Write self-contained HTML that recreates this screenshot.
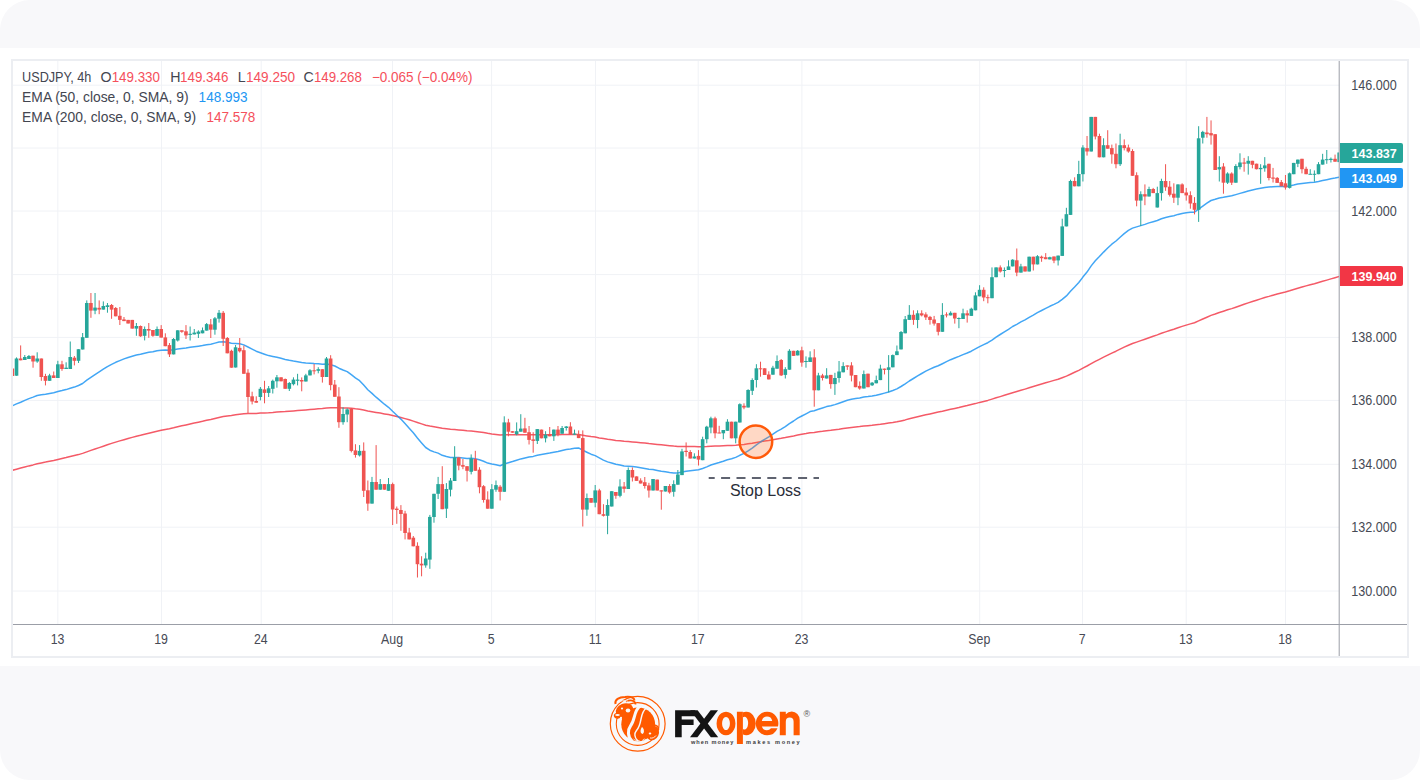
<!DOCTYPE html>
<html><head><meta charset="utf-8"><style>
html,body{margin:0;padding:0;background:#fff;}
body{width:1420px;height:780px;position:relative;overflow:hidden;font-family:"Liberation Sans",sans-serif;}
#bg{position:absolute;left:0;top:0;width:1420px;height:780px;background:#f8f8fa;border-radius:30px;}
#card{position:absolute;left:0;top:48px;width:1420px;height:618px;background:#fff;}
svg{position:absolute;left:0;top:0;}
</style></head><body>
<div id="bg"></div>
<div id="card"></div>
<svg width="1420" height="780" viewBox="0 0 1420 780" font-family="Liberation Sans, sans-serif">
<rect x="12" y="60" width="1396" height="597" fill="#fff" stroke="#eceef2" stroke-width="2"/>
<g stroke="#f0f2f6" stroke-width="1">
<line x1="13" y1="85.2" x2="1339" y2="85.2"/>
<line x1="13" y1="148.0" x2="1339" y2="148.0"/>
<line x1="13" y1="211.0" x2="1339" y2="211.0"/>
<line x1="13" y1="274.6" x2="1339" y2="274.6"/>
<line x1="13" y1="337.4" x2="1339" y2="337.4"/>
<line x1="13" y1="400.4" x2="1339" y2="400.4"/>
<line x1="13" y1="464.3" x2="1339" y2="464.3"/>
<line x1="13" y1="527.2" x2="1339" y2="527.2"/>
<line x1="13" y1="591.0" x2="1339" y2="591.0"/>
<line x1="57.85" y1="61" x2="57.85" y2="624"/>
<line x1="161.5" y1="61" x2="161.5" y2="624"/>
<line x1="261.2" y1="61" x2="261.2" y2="624"/>
<line x1="392.5" y1="61" x2="392.5" y2="624"/>
<line x1="491.6" y1="61" x2="491.6" y2="624"/>
<line x1="595.5" y1="61" x2="595.5" y2="624"/>
<line x1="698.2" y1="61" x2="698.2" y2="624"/>
<line x1="801.9" y1="61" x2="801.9" y2="624"/>
<line x1="979.7" y1="61" x2="979.7" y2="624"/>
<line x1="1082.5" y1="61" x2="1082.5" y2="624"/>
<line x1="1186.2" y1="61" x2="1186.2" y2="624"/>
<line x1="1285.45" y1="61" x2="1285.45" y2="624"/>
</g>
<defs><clipPath id="plot"><rect x="13" y="61" width="1326" height="563"/></clipPath></defs>
<g clip-path="url(#plot)">
<path d="M12.4,470.3 L16.5,469.2 L20.7,468.1 L24.8,467.0 L28.9,465.9 L33.1,464.9 L37.2,463.8 L41.3,462.9 L45.5,462.1 L49.6,461.2 L53.7,460.4 L57.9,459.4 L62.0,458.5 L66.1,457.6 L70.2,456.6 L74.4,455.6 L78.5,454.6 L82.6,453.4 L86.8,451.9 L90.9,450.4 L95.0,449.0 L99.2,447.6 L103.3,446.2 L107.4,444.8 L111.6,443.4 L115.7,442.1 L119.8,440.9 L124.0,439.7 L128.1,438.5 L132.2,437.4 L136.4,436.3 L140.5,435.3 L144.6,434.2 L148.8,433.2 L152.9,432.2 L157.0,431.2 L161.2,430.3 L165.3,429.4 L169.4,428.7 L173.6,427.8 L177.7,426.8 L181.8,425.8 L186.0,424.9 L190.1,424.0 L194.2,423.1 L198.4,422.2 L202.5,421.3 L206.6,420.3 L210.8,419.4 L214.9,418.4 L219.0,417.4 L223.2,416.6 L227.3,415.9 L231.4,415.5 L235.6,414.8 L239.7,414.2 L243.8,413.8 L248.0,413.6 L252.1,413.5 L256.2,413.4 L260.4,413.1 L264.5,412.9 L268.6,412.7 L272.8,412.4 L276.9,412.0 L281.0,411.7 L285.2,411.5 L289.3,411.2 L293.4,410.9 L297.6,410.6 L301.7,410.3 L305.8,410.0 L310.0,409.6 L314.1,409.2 L318.2,408.8 L322.4,408.5 L326.5,408.0 L330.6,407.8 L334.8,407.7 L338.9,407.8 L343.0,407.9 L347.2,407.9 L351.3,408.3 L355.4,408.8 L359.6,409.2 L363.7,410.0 L367.8,410.9 L372.0,411.7 L376.1,412.4 L380.2,413.1 L384.4,413.9 L388.5,414.6 L392.6,415.5 L396.8,416.5 L400.9,417.5 L405.0,418.6 L409.2,419.8 L413.3,421.1 L417.4,422.5 L421.6,423.9 L425.7,425.2 L429.8,426.1 L434.0,426.8 L438.1,427.4 L442.2,428.2 L446.4,428.8 L450.5,429.3 L454.6,429.6 L458.8,429.9 L462.9,430.3 L467.0,430.7 L471.2,431.0 L475.3,431.4 L479.4,431.9 L483.6,432.6 L487.7,433.3 L491.8,433.9 L496.0,434.4 L500.1,435.0 L504.2,434.8 L508.4,434.8 L512.5,434.8 L516.6,434.7 L520.8,434.7 L524.9,434.7 L529.0,434.7 L533.2,434.8 L537.3,434.7 L541.4,434.7 L545.6,434.7 L549.7,434.7 L553.8,434.7 L558.0,434.7 L562.1,434.6 L566.2,434.5 L570.4,434.5 L574.5,434.5 L578.6,434.6 L582.8,435.3 L586.9,435.9 L591.0,436.6 L595.2,437.1 L599.3,437.9 L603.4,438.6 L607.6,439.3 L611.7,439.8 L615.8,440.4 L620.0,440.8 L624.1,441.3 L628.2,441.6 L632.4,441.9 L636.5,442.3 L640.6,442.7 L644.8,443.1 L648.9,443.6 L653.0,443.9 L657.2,444.4 L661.3,444.8 L665.4,445.2 L669.6,445.7 L673.7,446.1 L677.8,446.4 L682.0,446.4 L686.1,446.4 L690.2,446.6 L694.4,446.6 L698.5,446.8 L702.6,446.7 L706.8,446.5 L710.9,446.2 L715.0,446.0 L719.2,445.9 L723.3,445.7 L727.4,445.5 L731.6,445.4 L735.7,445.2 L739.8,444.8 L744.0,444.4 L748.1,443.8 L752.2,443.2 L756.4,442.4 L760.5,441.7 L764.6,441.0 L768.8,440.4 L772.9,439.7 L777.0,438.9 L781.2,438.3 L785.3,437.6 L789.4,436.7 L793.6,435.9 L797.7,435.0 L801.8,434.3 L806.0,433.6 L810.1,432.8 L814.2,432.4 L818.4,431.8 L822.5,431.3 L826.6,430.7 L830.8,430.3 L834.9,429.7 L839.0,429.2 L843.2,428.5 L847.3,427.9 L851.4,427.4 L855.6,427.0 L859.7,426.6 L863.8,426.1 L868.0,425.7 L872.1,425.3 L876.2,424.8 L880.4,424.3 L884.5,423.7 L888.6,423.1 L892.8,422.5 L896.9,421.8 L901.0,420.9 L905.2,419.9 L909.3,418.8 L913.4,417.8 L917.6,416.8 L921.7,415.8 L925.8,414.8 L930.0,413.9 L934.1,413.0 L938.2,412.1 L942.4,411.2 L946.5,410.2 L950.6,409.3 L954.8,408.4 L958.9,407.5 L963.0,406.5 L967.2,405.6 L971.3,404.6 L975.4,403.6 L979.6,402.4 L983.7,401.4 L987.8,400.4 L992.0,399.1 L996.1,397.8 L1000.2,396.6 L1004.4,395.3 L1008.5,394.0 L1012.6,392.7 L1016.8,391.5 L1020.9,390.3 L1025.0,389.1 L1029.2,387.8 L1033.3,386.5 L1037.4,385.3 L1041.6,384.0 L1045.7,382.8 L1049.8,381.6 L1054.0,380.4 L1058.1,379.2 L1062.2,377.7 L1066.4,376.1 L1070.5,374.2 L1074.6,372.3 L1078.8,370.4 L1082.9,368.2 L1087.0,366.0 L1091.2,363.6 L1095.3,361.3 L1099.4,359.3 L1103.6,357.2 L1107.7,355.1 L1111.8,353.1 L1116.0,351.2 L1120.1,349.2 L1124.2,347.2 L1128.4,345.2 L1132.5,343.5 L1136.6,342.1 L1140.8,340.6 L1144.9,339.2 L1149.0,337.7 L1153.2,336.3 L1157.3,334.9 L1161.4,333.3 L1165.6,331.9 L1169.7,330.5 L1173.8,329.2 L1178.0,327.7 L1182.1,326.4 L1186.2,325.1 L1190.4,323.9 L1194.5,322.8 L1198.6,320.9 L1202.8,319.0 L1206.9,317.2 L1211.0,315.4 L1215.2,314.0 L1219.3,312.5 L1223.4,311.2 L1227.6,309.8 L1231.7,308.6 L1235.8,307.2 L1240.0,305.7 L1244.1,304.3 L1248.2,302.9 L1252.4,301.5 L1256.5,300.2 L1260.6,298.9 L1264.8,297.5 L1268.9,296.4 L1273.0,295.2 L1277.2,294.1 L1281.3,293.0 L1285.4,292.0 L1289.6,290.8 L1293.7,289.5 L1297.8,288.2 L1302.0,287.0 L1306.1,285.9 L1310.2,284.8 L1314.4,283.7 L1318.5,282.5 L1322.6,281.3 L1326.8,280.1 L1330.9,278.9 L1335.0,277.7 L1339.2,276.4" fill="none" stroke="#f23645" stroke-opacity="0.82" stroke-width="1.5" stroke-linejoin="round"/>
<path d="M12.4,405.8 L16.5,403.9 L20.7,402.2 L24.8,400.4 L28.9,398.6 L33.1,397.1 L37.2,395.5 L41.3,394.8 L45.5,394.2 L49.6,393.4 L53.7,392.7 L57.9,391.5 L62.0,390.6 L66.1,389.6 L70.2,388.2 L74.4,387.1 L78.5,385.5 L82.6,383.5 L86.8,380.2 L90.9,377.4 L95.0,374.6 L99.2,371.9 L103.3,369.2 L107.4,366.6 L111.6,364.3 L115.7,362.3 L119.8,360.6 L124.0,358.9 L128.1,357.5 L132.2,356.3 L136.4,355.0 L140.5,354.3 L144.6,353.2 L148.8,352.3 L152.9,351.7 L157.0,350.8 L161.2,350.2 L165.3,350.1 L169.4,350.2 L173.6,349.8 L177.7,349.1 L181.8,348.4 L186.0,347.9 L190.1,347.3 L194.2,346.8 L198.4,346.2 L202.5,345.6 L206.6,344.7 L210.8,344.2 L214.9,343.1 L219.0,342.0 L223.2,341.8 L227.3,342.3 L231.4,343.3 L235.6,343.4 L239.7,343.8 L243.8,344.9 L248.0,347.0 L252.1,349.1 L256.2,351.2 L260.4,352.7 L264.5,354.2 L268.6,355.6 L272.8,356.5 L276.9,357.3 L281.0,358.3 L285.2,359.4 L289.3,360.3 L293.4,361.1 L297.6,361.8 L301.7,362.5 L305.8,363.0 L310.0,363.2 L314.1,363.5 L318.2,363.7 L322.4,364.2 L326.5,364.0 L330.6,364.8 L334.8,366.0 L338.9,368.2 L343.0,370.0 L347.2,371.6 L351.3,374.7 L355.4,377.9 L359.6,380.7 L363.7,385.1 L367.8,389.7 L372.0,393.4 L376.1,397.2 L380.2,400.6 L384.4,404.2 L388.5,407.3 L392.6,411.3 L396.8,415.2 L400.9,419.1 L405.0,423.6 L409.2,428.2 L413.3,432.8 L417.4,438.0 L421.6,442.9 L425.7,447.5 L429.8,450.2 L434.0,451.9 L438.1,453.1 L442.2,455.3 L446.4,456.5 L450.5,457.4 L454.6,457.4 L458.8,457.6 L462.9,457.9 L467.0,458.4 L471.2,458.3 L475.3,458.7 L479.4,459.8 L483.6,461.3 L487.7,463.1 L491.8,464.0 L496.0,464.8 L500.1,465.8 L504.2,464.0 L508.4,462.7 L512.5,461.5 L516.6,460.2 L520.8,458.9 L524.9,457.9 L529.0,457.1 L533.2,456.4 L537.3,455.3 L541.4,454.6 L545.6,453.8 L549.7,453.1 L553.8,452.2 L558.0,451.5 L562.1,450.5 L566.2,449.6 L570.4,449.0 L574.5,448.3 L578.6,447.9 L582.8,450.3 L586.9,452.2 L591.0,454.2 L595.2,455.6 L599.3,457.8 L603.4,460.1 L607.6,461.9 L611.7,463.0 L615.8,464.3 L620.0,465.1 L624.1,466.0 L628.2,466.2 L632.4,466.6 L636.5,467.1 L640.6,467.7 L644.8,468.4 L648.9,469.3 L653.0,469.6 L657.2,470.4 L661.3,471.2 L665.4,471.8 L669.6,472.5 L673.7,473.0 L677.8,473.0 L682.0,472.1 L686.1,471.3 L690.2,470.8 L694.4,470.2 L698.5,469.8 L702.6,468.5 L706.8,466.9 L710.9,465.0 L715.0,463.7 L719.2,462.5 L723.3,461.2 L727.4,459.7 L731.6,458.8 L735.7,457.4 L739.8,455.3 L744.0,453.4 L748.1,450.9 L752.2,448.1 L756.4,444.9 L760.5,442.0 L764.6,439.3 L768.8,436.9 L772.9,434.2 L777.0,431.3 L781.2,429.1 L785.3,426.7 L789.4,423.7 L793.6,421.0 L797.7,418.2 L801.8,416.0 L806.0,413.8 L810.1,411.6 L814.2,410.7 L818.4,409.3 L822.5,408.0 L826.6,406.6 L830.8,405.7 L834.9,404.6 L839.0,403.2 L843.2,401.7 L847.3,400.2 L851.4,399.2 L855.6,398.6 L859.7,398.1 L863.8,397.1 L868.0,396.6 L872.1,396.0 L876.2,395.3 L880.4,394.2 L884.5,393.1 L888.6,392.0 L892.8,390.5 L896.9,388.9 L901.0,386.5 L905.2,383.8 L909.3,381.0 L913.4,378.5 L917.6,375.9 L921.7,373.5 L925.8,371.2 L930.0,369.1 L934.1,367.2 L938.2,365.7 L942.4,363.7 L946.5,361.7 L950.6,359.7 L954.8,358.0 L958.9,356.4 L963.0,354.6 L967.2,353.0 L971.3,351.2 L975.4,348.9 L979.6,346.6 L983.7,344.6 L987.8,342.7 L992.0,340.1 L996.1,337.1 L1000.2,334.5 L1004.4,331.9 L1008.5,329.3 L1012.6,326.5 L1016.8,324.3 L1020.9,321.9 L1025.0,319.8 L1029.2,317.3 L1033.3,315.1 L1037.4,312.7 L1041.6,310.5 L1045.7,308.4 L1049.8,306.3 L1054.0,304.4 L1058.1,302.4 L1062.2,299.3 L1066.4,295.9 L1070.5,291.3 L1074.6,287.1 L1078.8,282.5 L1082.9,277.1 L1087.0,272.1 L1091.2,265.9 L1095.3,260.8 L1099.4,256.6 L1103.6,252.1 L1107.7,248.0 L1111.8,244.2 L1116.0,241.0 L1120.1,237.2 L1124.2,233.6 L1128.4,230.3 L1132.5,228.1 L1136.6,226.9 L1140.8,225.6 L1144.9,224.4 L1149.0,222.9 L1153.2,221.7 L1157.3,220.5 L1161.4,218.8 L1165.6,217.5 L1169.7,216.6 L1173.8,215.7 L1178.0,214.4 L1182.1,213.5 L1186.2,212.8 L1190.4,212.3 L1194.5,212.2 L1198.6,209.2 L1202.8,206.1 L1206.9,203.2 L1211.0,200.5 L1215.2,199.3 L1219.3,198.0 L1223.4,197.3 L1227.6,196.4 L1231.7,195.8 L1235.8,194.6 L1240.0,193.4 L1244.1,192.2 L1248.2,191.0 L1252.4,189.9 L1256.5,189.1 L1260.6,188.3 L1264.8,187.4 L1268.9,187.0 L1273.0,186.7 L1277.2,186.5 L1281.3,186.5 L1285.4,186.5 L1289.6,185.9 L1293.7,185.0 L1297.8,184.0 L1302.0,183.4 L1306.1,183.0 L1310.2,182.6 L1314.4,182.2 L1318.5,181.5 L1322.6,180.6 L1326.8,179.7 L1330.9,178.8 L1335.0,178.1 L1339.2,177.1" fill="none" stroke="#2196f3" stroke-opacity="0.85" stroke-width="1.5" stroke-linejoin="round"/>
<rect x="11.88" y="364.0" width="1" height="14.0" fill="#ef5350"/>
<rect x="10.58" y="368.5" width="3.6" height="7.5" fill="#ef5350"/>
<rect x="16.02" y="357.4" width="1" height="18.3" fill="#26a69a"/>
<rect x="14.72" y="358.5" width="3.6" height="17.2" fill="#26a69a"/>
<rect x="20.15" y="345.4" width="1" height="14.9" fill="#ef5350"/>
<rect x="18.85" y="358.5" width="3.6" height="1.8" fill="#ef5350"/>
<rect x="24.28" y="355.0" width="1" height="5.0" fill="#26a69a"/>
<rect x="22.98" y="357.0" width="3.6" height="3.0" fill="#26a69a"/>
<rect x="28.42" y="355.0" width="1" height="4.0" fill="#26a69a"/>
<rect x="27.12" y="356.0" width="3.6" height="3.0" fill="#26a69a"/>
<rect x="32.55" y="355.7" width="1" height="12.0" fill="#ef5350"/>
<rect x="31.25" y="355.7" width="3.6" height="5.8" fill="#ef5350"/>
<rect x="36.68" y="352.3" width="1" height="10.5" fill="#26a69a"/>
<rect x="35.38" y="358.5" width="3.6" height="3.0" fill="#26a69a"/>
<rect x="40.82" y="358.5" width="1" height="22.3" fill="#ef5350"/>
<rect x="39.52" y="358.5" width="3.6" height="18.5" fill="#ef5350"/>
<rect x="44.95" y="373.8" width="1" height="11.6" fill="#ef5350"/>
<rect x="43.65" y="376.0" width="3.6" height="4.8" fill="#ef5350"/>
<rect x="49.08" y="373.8" width="1" height="7.0" fill="#26a69a"/>
<rect x="47.78" y="375.4" width="3.6" height="5.4" fill="#26a69a"/>
<rect x="53.22" y="371.5" width="1" height="6.5" fill="#ef5350"/>
<rect x="51.92" y="375.4" width="3.6" height="2.6" fill="#ef5350"/>
<rect x="57.35" y="360.8" width="1" height="17.2" fill="#26a69a"/>
<rect x="56.05" y="364.3" width="3.6" height="13.7" fill="#26a69a"/>
<rect x="61.48" y="360.8" width="1" height="10.0" fill="#ef5350"/>
<rect x="60.18" y="364.3" width="3.6" height="4.7" fill="#ef5350"/>
<rect x="65.62" y="362.3" width="1" height="6.7" fill="#26a69a"/>
<rect x="64.32" y="367.7" width="3.6" height="1.3" fill="#26a69a"/>
<rect x="69.75" y="341.5" width="1" height="27.5" fill="#26a69a"/>
<rect x="68.45" y="357.0" width="3.6" height="12.0" fill="#26a69a"/>
<rect x="73.88" y="356.0" width="1" height="9.4" fill="#ef5350"/>
<rect x="72.58" y="357.7" width="3.6" height="3.1" fill="#ef5350"/>
<rect x="78.02" y="349.2" width="1" height="13.8" fill="#26a69a"/>
<rect x="76.72" y="349.2" width="3.6" height="11.6" fill="#26a69a"/>
<rect x="82.15" y="333.0" width="1" height="16.5" fill="#26a69a"/>
<rect x="80.85" y="337.2" width="3.6" height="12.3" fill="#26a69a"/>
<rect x="86.28" y="300.4" width="1" height="37.4" fill="#26a69a"/>
<rect x="84.98" y="303.0" width="3.6" height="34.8" fill="#26a69a"/>
<rect x="90.42" y="293.0" width="1" height="24.8" fill="#ef5350"/>
<rect x="89.12" y="303.0" width="3.6" height="7.6" fill="#ef5350"/>
<rect x="94.55" y="293.0" width="1" height="21.2" fill="#26a69a"/>
<rect x="93.25" y="307.6" width="3.6" height="3.0" fill="#26a69a"/>
<rect x="98.68" y="300.4" width="1" height="13.8" fill="#ef5350"/>
<rect x="97.38" y="307.8" width="3.6" height="1.8" fill="#ef5350"/>
<rect x="102.82" y="301.4" width="1" height="8.2" fill="#26a69a"/>
<rect x="101.52" y="306.0" width="3.6" height="3.6" fill="#26a69a"/>
<rect x="106.95" y="303.0" width="1" height="9.7" fill="#26a69a"/>
<rect x="105.65" y="305.3" width="3.6" height="1.7" fill="#26a69a"/>
<rect x="111.08" y="304.0" width="1" height="14.8" fill="#ef5350"/>
<rect x="109.78" y="305.0" width="3.6" height="4.6" fill="#ef5350"/>
<rect x="115.22" y="307.0" width="1" height="9.3" fill="#ef5350"/>
<rect x="113.92" y="308.0" width="3.6" height="8.3" fill="#ef5350"/>
<rect x="119.35" y="307.0" width="1" height="18.0" fill="#ef5350"/>
<rect x="118.05" y="315.8" width="3.6" height="4.1" fill="#ef5350"/>
<rect x="123.48" y="317.0" width="1" height="4.1" fill="#ef5350"/>
<rect x="122.18" y="319.4" width="3.6" height="1.7" fill="#ef5350"/>
<rect x="127.62" y="319.9" width="1" height="3.6" fill="#ef5350"/>
<rect x="126.32" y="319.9" width="3.6" height="3.6" fill="#ef5350"/>
<rect x="131.75" y="319.9" width="1" height="8.7" fill="#ef5350"/>
<rect x="130.45" y="319.9" width="3.6" height="8.7" fill="#ef5350"/>
<rect x="135.88" y="323.0" width="1" height="12.8" fill="#26a69a"/>
<rect x="134.58" y="326.0" width="3.6" height="2.6" fill="#26a69a"/>
<rect x="140.02" y="325.5" width="1" height="11.3" fill="#ef5350"/>
<rect x="138.72" y="326.0" width="3.6" height="10.3" fill="#ef5350"/>
<rect x="144.15" y="326.5" width="1" height="13.9" fill="#26a69a"/>
<rect x="142.85" y="329.0" width="3.6" height="6.8" fill="#26a69a"/>
<rect x="148.28" y="323.0" width="1" height="14.8" fill="#ef5350"/>
<rect x="146.98" y="329.0" width="3.6" height="1.6" fill="#ef5350"/>
<rect x="152.42" y="330.0" width="1" height="6.8" fill="#ef5350"/>
<rect x="151.12" y="330.0" width="3.6" height="5.8" fill="#ef5350"/>
<rect x="156.55" y="326.5" width="1" height="9.3" fill="#26a69a"/>
<rect x="155.25" y="329.0" width="3.6" height="6.8" fill="#26a69a"/>
<rect x="160.68" y="325.1" width="1" height="12.5" fill="#ef5350"/>
<rect x="159.38" y="329.0" width="3.6" height="8.6" fill="#ef5350"/>
<rect x="164.82" y="333.3" width="1" height="12.9" fill="#ef5350"/>
<rect x="163.52" y="337.4" width="3.6" height="8.8" fill="#ef5350"/>
<rect x="168.95" y="343.0" width="1" height="14.0" fill="#ef5350"/>
<rect x="167.65" y="345.1" width="3.6" height="9.3" fill="#ef5350"/>
<rect x="173.08" y="338.0" width="1" height="16.4" fill="#26a69a"/>
<rect x="171.78" y="339.0" width="3.6" height="15.4" fill="#26a69a"/>
<rect x="177.22" y="330.3" width="1" height="11.2" fill="#26a69a"/>
<rect x="175.92" y="330.3" width="3.6" height="10.2" fill="#26a69a"/>
<rect x="181.35" y="330.3" width="1" height="2.5" fill="#ef5350"/>
<rect x="180.05" y="330.3" width="3.6" height="1.5" fill="#ef5350"/>
<rect x="185.48" y="325.1" width="1" height="13.9" fill="#ef5350"/>
<rect x="184.18" y="331.3" width="3.6" height="4.1" fill="#ef5350"/>
<rect x="189.62" y="326.5" width="1" height="14.0" fill="#26a69a"/>
<rect x="188.32" y="333.8" width="3.6" height="1.1" fill="#26a69a"/>
<rect x="193.75" y="329.0" width="1" height="5.4" fill="#26a69a"/>
<rect x="192.45" y="332.6" width="3.6" height="1.8" fill="#26a69a"/>
<rect x="197.88" y="330.3" width="1" height="7.7" fill="#26a69a"/>
<rect x="196.58" y="331.6" width="3.6" height="2.2" fill="#26a69a"/>
<rect x="202.02" y="327.5" width="1" height="5.8" fill="#26a69a"/>
<rect x="200.72" y="330.3" width="3.6" height="3.0" fill="#26a69a"/>
<rect x="206.15" y="323.0" width="1" height="7.6" fill="#26a69a"/>
<rect x="204.85" y="324.1" width="3.6" height="6.5" fill="#26a69a"/>
<rect x="210.28" y="319.0" width="1" height="19.0" fill="#ef5350"/>
<rect x="208.98" y="324.4" width="3.6" height="5.3" fill="#ef5350"/>
<rect x="214.42" y="317.0" width="1" height="17.7" fill="#26a69a"/>
<rect x="213.12" y="318.3" width="3.6" height="11.4" fill="#26a69a"/>
<rect x="218.55" y="310.0" width="1" height="12.6" fill="#26a69a"/>
<rect x="217.25" y="312.8" width="3.6" height="5.9" fill="#26a69a"/>
<rect x="222.68" y="311.0" width="1" height="35.0" fill="#ef5350"/>
<rect x="221.38" y="312.8" width="3.6" height="26.0" fill="#ef5350"/>
<rect x="226.82" y="337.0" width="1" height="16.3" fill="#ef5350"/>
<rect x="225.52" y="338.0" width="3.6" height="15.3" fill="#ef5350"/>
<rect x="230.95" y="349.7" width="1" height="18.0" fill="#ef5350"/>
<rect x="229.65" y="350.8" width="3.6" height="16.9" fill="#ef5350"/>
<rect x="235.08" y="345.0" width="1" height="22.5" fill="#26a69a"/>
<rect x="233.78" y="347.3" width="3.6" height="20.2" fill="#26a69a"/>
<rect x="239.22" y="338.0" width="1" height="14.5" fill="#ef5350"/>
<rect x="237.92" y="347.9" width="3.6" height="3.4" fill="#ef5350"/>
<rect x="243.35" y="345.6" width="1" height="28.2" fill="#ef5350"/>
<rect x="242.05" y="350.2" width="3.6" height="23.6" fill="#ef5350"/>
<rect x="247.48" y="369.2" width="1" height="43.8" fill="#ef5350"/>
<rect x="246.18" y="372.7" width="3.6" height="24.3" fill="#ef5350"/>
<rect x="251.62" y="391.7" width="1" height="12.7" fill="#ef5350"/>
<rect x="250.32" y="396.3" width="3.6" height="5.2" fill="#ef5350"/>
<rect x="255.75" y="396.3" width="1" height="6.4" fill="#ef5350"/>
<rect x="254.45" y="401.0" width="3.6" height="1.7" fill="#ef5350"/>
<rect x="259.88" y="387.0" width="1" height="13.4" fill="#26a69a"/>
<rect x="258.58" y="388.8" width="3.6" height="8.2" fill="#26a69a"/>
<rect x="264.02" y="380.8" width="1" height="22.5" fill="#ef5350"/>
<rect x="262.72" y="389.4" width="3.6" height="3.5" fill="#ef5350"/>
<rect x="268.15" y="386.0" width="1" height="11.0" fill="#26a69a"/>
<rect x="266.85" y="388.3" width="3.6" height="4.6" fill="#26a69a"/>
<rect x="272.28" y="379.6" width="1" height="13.9" fill="#26a69a"/>
<rect x="270.98" y="380.8" width="3.6" height="8.0" fill="#26a69a"/>
<rect x="276.41" y="375.0" width="1" height="12.7" fill="#26a69a"/>
<rect x="275.11" y="377.3" width="3.6" height="4.0" fill="#26a69a"/>
<rect x="280.55" y="377.3" width="1" height="4.0" fill="#ef5350"/>
<rect x="279.25" y="377.3" width="3.6" height="4.0" fill="#ef5350"/>
<rect x="284.68" y="378.5" width="1" height="10.3" fill="#ef5350"/>
<rect x="283.38" y="379.0" width="3.6" height="9.8" fill="#ef5350"/>
<rect x="288.81" y="382.0" width="1" height="9.0" fill="#26a69a"/>
<rect x="287.51" y="383.0" width="3.6" height="5.8" fill="#26a69a"/>
<rect x="292.95" y="377.3" width="1" height="8.1" fill="#26a69a"/>
<rect x="291.65" y="379.6" width="3.6" height="4.6" fill="#26a69a"/>
<rect x="297.08" y="373.8" width="1" height="11.6" fill="#26a69a"/>
<rect x="295.78" y="379.6" width="3.6" height="1.2" fill="#26a69a"/>
<rect x="301.21" y="377.4" width="1" height="13.9" fill="#ef5350"/>
<rect x="299.91" y="380.0" width="3.6" height="1.5" fill="#ef5350"/>
<rect x="305.35" y="373.8" width="1" height="7.7" fill="#26a69a"/>
<rect x="304.05" y="375.4" width="3.6" height="6.1" fill="#26a69a"/>
<rect x="309.48" y="369.2" width="1" height="6.2" fill="#26a69a"/>
<rect x="308.18" y="370.3" width="3.6" height="5.1" fill="#26a69a"/>
<rect x="313.61" y="364.0" width="1" height="10.4" fill="#ef5350"/>
<rect x="312.31" y="370.3" width="3.6" height="1.0" fill="#ef5350"/>
<rect x="317.75" y="367.2" width="1" height="6.1" fill="#26a69a"/>
<rect x="316.45" y="369.2" width="3.6" height="1.6" fill="#26a69a"/>
<rect x="321.88" y="369.2" width="1" height="13.4" fill="#ef5350"/>
<rect x="320.58" y="369.2" width="3.6" height="7.8" fill="#ef5350"/>
<rect x="326.01" y="357.0" width="1" height="20.0" fill="#26a69a"/>
<rect x="324.71" y="358.5" width="3.6" height="18.5" fill="#26a69a"/>
<rect x="330.15" y="355.2" width="1" height="35.1" fill="#ef5350"/>
<rect x="328.85" y="358.5" width="3.6" height="26.6" fill="#ef5350"/>
<rect x="334.28" y="380.0" width="1" height="16.8" fill="#ef5350"/>
<rect x="332.98" y="384.6" width="3.6" height="12.2" fill="#ef5350"/>
<rect x="338.41" y="387.2" width="1" height="40.6" fill="#ef5350"/>
<rect x="337.11" y="396.5" width="3.6" height="25.7" fill="#ef5350"/>
<rect x="342.55" y="407.3" width="1" height="17.4" fill="#26a69a"/>
<rect x="341.25" y="414.0" width="3.6" height="8.2" fill="#26a69a"/>
<rect x="346.68" y="408.3" width="1" height="13.9" fill="#26a69a"/>
<rect x="345.38" y="409.4" width="3.6" height="5.1" fill="#26a69a"/>
<rect x="350.81" y="408.3" width="1" height="44.1" fill="#ef5350"/>
<rect x="349.51" y="408.8" width="3.6" height="42.1" fill="#ef5350"/>
<rect x="354.95" y="444.2" width="1" height="13.4" fill="#ef5350"/>
<rect x="353.65" y="450.4" width="3.6" height="4.6" fill="#ef5350"/>
<rect x="359.08" y="445.1" width="1" height="11.4" fill="#26a69a"/>
<rect x="357.78" y="450.9" width="3.6" height="4.5" fill="#26a69a"/>
<rect x="363.21" y="442.4" width="1" height="54.6" fill="#ef5350"/>
<rect x="361.91" y="450.8" width="3.6" height="40.0" fill="#ef5350"/>
<rect x="367.35" y="480.5" width="1" height="30.3" fill="#ef5350"/>
<rect x="366.05" y="490.3" width="3.6" height="13.3" fill="#ef5350"/>
<rect x="371.48" y="476.9" width="1" height="26.7" fill="#26a69a"/>
<rect x="370.18" y="482.0" width="3.6" height="21.6" fill="#26a69a"/>
<rect x="375.61" y="445.1" width="1" height="44.6" fill="#ef5350"/>
<rect x="374.31" y="482.0" width="3.6" height="7.7" fill="#ef5350"/>
<rect x="379.75" y="479.0" width="1" height="10.7" fill="#26a69a"/>
<rect x="378.45" y="484.1" width="3.6" height="5.6" fill="#26a69a"/>
<rect x="383.88" y="484.1" width="1" height="5.6" fill="#ef5350"/>
<rect x="382.58" y="484.1" width="3.6" height="5.6" fill="#ef5350"/>
<rect x="388.01" y="478.0" width="1" height="12.8" fill="#26a69a"/>
<rect x="386.71" y="484.1" width="3.6" height="6.7" fill="#26a69a"/>
<rect x="392.15" y="482.6" width="1" height="42.4" fill="#ef5350"/>
<rect x="390.85" y="484.1" width="3.6" height="25.4" fill="#ef5350"/>
<rect x="396.28" y="506.5" width="1" height="17.3" fill="#ef5350"/>
<rect x="394.98" y="508.6" width="3.6" height="1.4" fill="#ef5350"/>
<rect x="400.41" y="505.1" width="1" height="25.7" fill="#ef5350"/>
<rect x="399.11" y="510.0" width="3.6" height="4.0" fill="#ef5350"/>
<rect x="404.55" y="510.8" width="1" height="28.6" fill="#ef5350"/>
<rect x="403.25" y="513.5" width="3.6" height="19.5" fill="#ef5350"/>
<rect x="408.68" y="527.9" width="1" height="11.5" fill="#ef5350"/>
<rect x="407.38" y="532.5" width="3.6" height="6.9" fill="#ef5350"/>
<rect x="412.81" y="536.0" width="1" height="10.3" fill="#ef5350"/>
<rect x="411.51" y="537.7" width="3.6" height="8.6" fill="#ef5350"/>
<rect x="416.95" y="542.3" width="1" height="35.2" fill="#ef5350"/>
<rect x="415.65" y="545.8" width="3.6" height="18.4" fill="#ef5350"/>
<rect x="421.08" y="556.2" width="1" height="20.1" fill="#ef5350"/>
<rect x="419.78" y="563.7" width="3.6" height="1.7" fill="#ef5350"/>
<rect x="425.21" y="552.7" width="1" height="15.0" fill="#26a69a"/>
<rect x="423.91" y="558.5" width="3.6" height="6.9" fill="#26a69a"/>
<rect x="429.35" y="514.9" width="1" height="53.9" fill="#26a69a"/>
<rect x="428.05" y="516.9" width="3.6" height="42.7" fill="#26a69a"/>
<rect x="433.48" y="493.8" width="1" height="28.9" fill="#26a69a"/>
<rect x="432.18" y="493.8" width="3.6" height="23.2" fill="#26a69a"/>
<rect x="437.61" y="476.9" width="1" height="22.1" fill="#26a69a"/>
<rect x="436.31" y="484.1" width="3.6" height="9.7" fill="#26a69a"/>
<rect x="441.75" y="466.2" width="1" height="43.0" fill="#ef5350"/>
<rect x="440.45" y="484.1" width="3.6" height="25.1" fill="#ef5350"/>
<rect x="445.88" y="483.1" width="1" height="34.9" fill="#26a69a"/>
<rect x="444.58" y="489.0" width="3.6" height="19.7" fill="#26a69a"/>
<rect x="450.01" y="478.0" width="1" height="18.4" fill="#26a69a"/>
<rect x="448.71" y="480.5" width="3.6" height="9.2" fill="#26a69a"/>
<rect x="454.15" y="446.2" width="1" height="34.8" fill="#26a69a"/>
<rect x="452.85" y="457.4" width="3.6" height="23.6" fill="#26a69a"/>
<rect x="458.28" y="457.4" width="1" height="12.9" fill="#ef5350"/>
<rect x="456.98" y="457.4" width="3.6" height="8.2" fill="#ef5350"/>
<rect x="462.41" y="459.0" width="1" height="10.2" fill="#ef5350"/>
<rect x="461.11" y="465.1" width="3.6" height="1.6" fill="#ef5350"/>
<rect x="466.55" y="466.2" width="1" height="15.3" fill="#ef5350"/>
<rect x="465.25" y="466.2" width="3.6" height="4.6" fill="#ef5350"/>
<rect x="470.68" y="454.4" width="1" height="20.0" fill="#26a69a"/>
<rect x="469.38" y="458.5" width="3.6" height="13.3" fill="#26a69a"/>
<rect x="474.81" y="450.8" width="1" height="20.0" fill="#ef5350"/>
<rect x="473.51" y="459.0" width="3.6" height="11.8" fill="#ef5350"/>
<rect x="478.95" y="467.2" width="1" height="26.1" fill="#ef5350"/>
<rect x="477.65" y="469.7" width="3.6" height="17.5" fill="#ef5350"/>
<rect x="483.08" y="485.1" width="1" height="17.5" fill="#ef5350"/>
<rect x="481.78" y="486.2" width="3.6" height="13.8" fill="#ef5350"/>
<rect x="487.21" y="491.3" width="1" height="17.4" fill="#ef5350"/>
<rect x="485.91" y="499.5" width="3.6" height="9.2" fill="#ef5350"/>
<rect x="491.35" y="484.1" width="1" height="24.6" fill="#26a69a"/>
<rect x="490.05" y="489.2" width="3.6" height="19.5" fill="#26a69a"/>
<rect x="495.48" y="480.5" width="1" height="11.3" fill="#26a69a"/>
<rect x="494.18" y="485.1" width="3.6" height="4.6" fill="#26a69a"/>
<rect x="499.61" y="485.1" width="1" height="15.4" fill="#ef5350"/>
<rect x="498.31" y="486.7" width="3.6" height="5.1" fill="#ef5350"/>
<rect x="503.75" y="416.3" width="1" height="75.5" fill="#26a69a"/>
<rect x="502.45" y="422.4" width="3.6" height="69.4" fill="#26a69a"/>
<rect x="507.88" y="418.8" width="1" height="17.5" fill="#ef5350"/>
<rect x="506.58" y="422.4" width="3.6" height="9.3" fill="#ef5350"/>
<rect x="512.01" y="431.2" width="1" height="1.5" fill="#ef5350"/>
<rect x="510.71" y="431.2" width="3.6" height="1.5" fill="#ef5350"/>
<rect x="516.15" y="422.4" width="1" height="12.9" fill="#26a69a"/>
<rect x="514.85" y="431.2" width="3.6" height="3.0" fill="#26a69a"/>
<rect x="520.28" y="414.2" width="1" height="17.5" fill="#26a69a"/>
<rect x="518.98" y="428.6" width="3.6" height="3.1" fill="#26a69a"/>
<rect x="524.41" y="417.8" width="1" height="14.9" fill="#ef5350"/>
<rect x="523.11" y="428.4" width="3.6" height="4.3" fill="#ef5350"/>
<rect x="528.55" y="426.0" width="1" height="18.5" fill="#ef5350"/>
<rect x="527.25" y="432.2" width="3.6" height="7.7" fill="#ef5350"/>
<rect x="532.68" y="432.2" width="1" height="20.5" fill="#ef5350"/>
<rect x="531.38" y="439.4" width="3.6" height="1.5" fill="#ef5350"/>
<rect x="536.81" y="429.1" width="1" height="14.9" fill="#26a69a"/>
<rect x="535.51" y="429.1" width="3.6" height="11.8" fill="#26a69a"/>
<rect x="540.95" y="429.6" width="1" height="8.7" fill="#ef5350"/>
<rect x="539.65" y="429.6" width="3.6" height="8.7" fill="#ef5350"/>
<rect x="545.08" y="431.2" width="1" height="11.2" fill="#26a69a"/>
<rect x="543.78" y="434.7" width="3.6" height="3.6" fill="#26a69a"/>
<rect x="549.21" y="427.0" width="1" height="9.3" fill="#ef5350"/>
<rect x="547.91" y="434.2" width="3.6" height="2.1" fill="#ef5350"/>
<rect x="553.35" y="429.6" width="1" height="11.3" fill="#26a69a"/>
<rect x="552.05" y="429.6" width="3.6" height="6.7" fill="#26a69a"/>
<rect x="557.48" y="426.0" width="1" height="10.3" fill="#ef5350"/>
<rect x="556.18" y="429.6" width="3.6" height="4.6" fill="#ef5350"/>
<rect x="561.61" y="426.0" width="1" height="7.7" fill="#26a69a"/>
<rect x="560.31" y="428.0" width="3.6" height="5.7" fill="#26a69a"/>
<rect x="565.75" y="426.0" width="1" height="4.6" fill="#26a69a"/>
<rect x="564.45" y="426.5" width="3.6" height="1.5" fill="#26a69a"/>
<rect x="569.88" y="422.2" width="1" height="12.3" fill="#ef5350"/>
<rect x="568.58" y="426.5" width="3.6" height="8.0" fill="#ef5350"/>
<rect x="574.01" y="429.6" width="1" height="5.1" fill="#26a69a"/>
<rect x="572.71" y="433.5" width="3.6" height="1.2" fill="#26a69a"/>
<rect x="578.15" y="430.4" width="1" height="7.7" fill="#ef5350"/>
<rect x="576.85" y="434.2" width="3.6" height="3.9" fill="#ef5350"/>
<rect x="582.28" y="430.4" width="1" height="96.1" fill="#ef5350"/>
<rect x="580.98" y="438.1" width="3.6" height="71.5" fill="#ef5350"/>
<rect x="586.41" y="493.5" width="1" height="22.3" fill="#26a69a"/>
<rect x="585.11" y="498.0" width="3.6" height="11.6" fill="#26a69a"/>
<rect x="590.55" y="498.0" width="1" height="4.7" fill="#ef5350"/>
<rect x="589.25" y="498.0" width="3.6" height="4.7" fill="#ef5350"/>
<rect x="594.68" y="485.0" width="1" height="22.3" fill="#26a69a"/>
<rect x="593.38" y="490.4" width="3.6" height="12.3" fill="#26a69a"/>
<rect x="598.81" y="488.8" width="1" height="25.4" fill="#ef5350"/>
<rect x="597.51" y="490.4" width="3.6" height="23.8" fill="#ef5350"/>
<rect x="602.95" y="504.2" width="1" height="12.3" fill="#ef5350"/>
<rect x="601.65" y="514.2" width="3.6" height="1.6" fill="#ef5350"/>
<rect x="607.08" y="499.3" width="1" height="34.9" fill="#26a69a"/>
<rect x="605.78" y="505.0" width="3.6" height="10.8" fill="#26a69a"/>
<rect x="611.21" y="491.2" width="1" height="15.3" fill="#26a69a"/>
<rect x="609.91" y="491.2" width="3.6" height="15.3" fill="#26a69a"/>
<rect x="615.35" y="492.0" width="1" height="6.8" fill="#ef5350"/>
<rect x="614.05" y="492.0" width="3.6" height="3.8" fill="#ef5350"/>
<rect x="619.48" y="479.3" width="1" height="18.0" fill="#26a69a"/>
<rect x="618.18" y="486.5" width="3.6" height="9.3" fill="#26a69a"/>
<rect x="623.61" y="482.0" width="1" height="10.7" fill="#ef5350"/>
<rect x="622.31" y="486.5" width="3.6" height="2.3" fill="#ef5350"/>
<rect x="627.75" y="467.4" width="1" height="21.6" fill="#26a69a"/>
<rect x="626.45" y="470.0" width="3.6" height="19.0" fill="#26a69a"/>
<rect x="631.88" y="467.4" width="1" height="14.1" fill="#ef5350"/>
<rect x="630.58" y="470.0" width="3.6" height="7.5" fill="#ef5350"/>
<rect x="636.01" y="476.4" width="1" height="4.5" fill="#ef5350"/>
<rect x="634.71" y="476.4" width="3.6" height="4.5" fill="#ef5350"/>
<rect x="640.15" y="478.3" width="1" height="5.2" fill="#ef5350"/>
<rect x="638.85" y="480.5" width="3.6" height="3.0" fill="#ef5350"/>
<rect x="644.28" y="477.0" width="1" height="11.6" fill="#ef5350"/>
<rect x="642.98" y="482.2" width="3.6" height="3.8" fill="#ef5350"/>
<rect x="648.41" y="482.8" width="1" height="14.8" fill="#ef5350"/>
<rect x="647.11" y="485.4" width="3.6" height="5.1" fill="#ef5350"/>
<rect x="652.55" y="479.0" width="1" height="11.5" fill="#26a69a"/>
<rect x="651.25" y="479.0" width="3.6" height="11.5" fill="#26a69a"/>
<rect x="656.68" y="479.6" width="1" height="10.9" fill="#ef5350"/>
<rect x="655.38" y="479.6" width="3.6" height="10.9" fill="#ef5350"/>
<rect x="660.81" y="490.3" width="1" height="19.4" fill="#ef5350"/>
<rect x="659.51" y="490.3" width="3.6" height="1.2" fill="#ef5350"/>
<rect x="664.95" y="486.0" width="1" height="5.5" fill="#26a69a"/>
<rect x="663.65" y="486.0" width="3.6" height="5.5" fill="#26a69a"/>
<rect x="669.08" y="484.1" width="1" height="9.6" fill="#ef5350"/>
<rect x="667.78" y="486.0" width="3.6" height="6.4" fill="#ef5350"/>
<rect x="673.21" y="480.3" width="1" height="16.4" fill="#26a69a"/>
<rect x="671.91" y="484.1" width="3.6" height="7.7" fill="#26a69a"/>
<rect x="677.35" y="470.0" width="1" height="14.7" fill="#26a69a"/>
<rect x="676.05" y="474.5" width="3.6" height="10.2" fill="#26a69a"/>
<rect x="681.48" y="448.8" width="1" height="26.3" fill="#26a69a"/>
<rect x="680.18" y="451.4" width="3.6" height="23.7" fill="#26a69a"/>
<rect x="685.61" y="442.4" width="1" height="14.1" fill="#ef5350"/>
<rect x="684.31" y="450.8" width="3.6" height="1.2" fill="#ef5350"/>
<rect x="689.74" y="450.1" width="1" height="8.4" fill="#ef5350"/>
<rect x="688.44" y="452.0" width="3.6" height="6.5" fill="#ef5350"/>
<rect x="693.88" y="453.3" width="1" height="5.2" fill="#26a69a"/>
<rect x="692.58" y="456.5" width="3.6" height="2.0" fill="#26a69a"/>
<rect x="698.01" y="450.1" width="1" height="15.4" fill="#ef5350"/>
<rect x="696.71" y="455.9" width="3.6" height="3.7" fill="#ef5350"/>
<rect x="702.14" y="436.7" width="1" height="23.5" fill="#26a69a"/>
<rect x="700.84" y="439.2" width="3.6" height="21.0" fill="#26a69a"/>
<rect x="706.28" y="425.8" width="1" height="17.5" fill="#26a69a"/>
<rect x="704.98" y="426.7" width="3.6" height="12.5" fill="#26a69a"/>
<rect x="710.41" y="416.7" width="1" height="16.6" fill="#26a69a"/>
<rect x="709.11" y="418.3" width="3.6" height="9.2" fill="#26a69a"/>
<rect x="714.54" y="416.7" width="1" height="21.6" fill="#ef5350"/>
<rect x="713.24" y="418.3" width="3.6" height="15.0" fill="#ef5350"/>
<rect x="718.68" y="425.8" width="1" height="7.5" fill="#ef5350"/>
<rect x="717.38" y="432.5" width="3.6" height="1.0" fill="#ef5350"/>
<rect x="722.81" y="430.0" width="1" height="9.2" fill="#26a69a"/>
<rect x="721.51" y="430.0" width="3.6" height="3.3" fill="#26a69a"/>
<rect x="726.94" y="419.2" width="1" height="11.6" fill="#26a69a"/>
<rect x="725.64" y="421.7" width="3.6" height="9.1" fill="#26a69a"/>
<rect x="731.08" y="421.7" width="1" height="16.6" fill="#ef5350"/>
<rect x="729.78" y="421.7" width="3.6" height="16.6" fill="#ef5350"/>
<rect x="735.21" y="421.7" width="1" height="21.6" fill="#26a69a"/>
<rect x="733.91" y="421.7" width="3.6" height="16.6" fill="#26a69a"/>
<rect x="739.34" y="403.3" width="1" height="19.2" fill="#26a69a"/>
<rect x="738.04" y="404.2" width="3.6" height="18.3" fill="#26a69a"/>
<rect x="743.48" y="403.3" width="1" height="5.9" fill="#ef5350"/>
<rect x="742.18" y="405.8" width="3.6" height="1.7" fill="#ef5350"/>
<rect x="747.61" y="389.2" width="1" height="18.3" fill="#26a69a"/>
<rect x="746.31" y="390.0" width="3.6" height="17.5" fill="#26a69a"/>
<rect x="751.74" y="378.3" width="1" height="16.7" fill="#26a69a"/>
<rect x="750.44" y="380.0" width="3.6" height="10.8" fill="#26a69a"/>
<rect x="755.88" y="364.2" width="1" height="23.3" fill="#26a69a"/>
<rect x="754.58" y="368.3" width="3.6" height="11.7" fill="#26a69a"/>
<rect x="760.01" y="361.7" width="1" height="15.0" fill="#ef5350"/>
<rect x="758.71" y="368.3" width="3.6" height="1.0" fill="#ef5350"/>
<rect x="764.14" y="368.2" width="1" height="6.8" fill="#ef5350"/>
<rect x="762.84" y="368.3" width="3.6" height="6.7" fill="#ef5350"/>
<rect x="768.28" y="371.3" width="1" height="8.1" fill="#ef5350"/>
<rect x="766.98" y="374.5" width="3.6" height="4.9" fill="#ef5350"/>
<rect x="772.41" y="365.8" width="1" height="8.9" fill="#26a69a"/>
<rect x="771.11" y="367.7" width="3.6" height="7.0" fill="#26a69a"/>
<rect x="776.54" y="355.4" width="1" height="13.3" fill="#26a69a"/>
<rect x="775.24" y="361.0" width="3.6" height="7.7" fill="#26a69a"/>
<rect x="780.68" y="359.0" width="1" height="17.0" fill="#ef5350"/>
<rect x="779.38" y="360.0" width="3.6" height="15.4" fill="#ef5350"/>
<rect x="784.81" y="367.2" width="1" height="11.3" fill="#26a69a"/>
<rect x="783.51" y="369.2" width="3.6" height="5.7" fill="#26a69a"/>
<rect x="788.94" y="349.2" width="1" height="20.5" fill="#26a69a"/>
<rect x="787.64" y="350.8" width="3.6" height="18.9" fill="#26a69a"/>
<rect x="793.08" y="350.8" width="1" height="5.1" fill="#ef5350"/>
<rect x="791.78" y="350.8" width="3.6" height="5.1" fill="#ef5350"/>
<rect x="797.21" y="350.0" width="1" height="5.4" fill="#26a69a"/>
<rect x="795.91" y="350.8" width="3.6" height="4.6" fill="#26a69a"/>
<rect x="801.34" y="346.7" width="1" height="20.0" fill="#ef5350"/>
<rect x="800.04" y="350.3" width="3.6" height="12.3" fill="#ef5350"/>
<rect x="805.48" y="356.4" width="1" height="11.3" fill="#26a69a"/>
<rect x="804.18" y="361.0" width="3.6" height="1.0" fill="#26a69a"/>
<rect x="809.61" y="351.3" width="1" height="10.7" fill="#26a69a"/>
<rect x="808.31" y="357.4" width="3.6" height="4.6" fill="#26a69a"/>
<rect x="813.74" y="349.2" width="1" height="57.5" fill="#ef5350"/>
<rect x="812.44" y="357.4" width="3.6" height="32.9" fill="#ef5350"/>
<rect x="817.88" y="372.8" width="1" height="17.5" fill="#26a69a"/>
<rect x="816.58" y="375.4" width="3.6" height="14.9" fill="#26a69a"/>
<rect x="822.01" y="373.8" width="1" height="6.7" fill="#ef5350"/>
<rect x="820.71" y="375.4" width="3.6" height="2.6" fill="#ef5350"/>
<rect x="826.14" y="368.2" width="1" height="10.3" fill="#26a69a"/>
<rect x="824.84" y="375.4" width="3.6" height="3.1" fill="#26a69a"/>
<rect x="830.28" y="374.9" width="1" height="13.8" fill="#ef5350"/>
<rect x="828.98" y="374.9" width="3.6" height="9.2" fill="#ef5350"/>
<rect x="834.41" y="372.8" width="1" height="22.1" fill="#26a69a"/>
<rect x="833.11" y="378.0" width="3.6" height="6.1" fill="#26a69a"/>
<rect x="838.54" y="361.0" width="1" height="21.6" fill="#26a69a"/>
<rect x="837.24" y="371.5" width="3.6" height="6.5" fill="#26a69a"/>
<rect x="842.68" y="362.2" width="1" height="10.1" fill="#26a69a"/>
<rect x="841.38" y="366.1" width="3.6" height="6.2" fill="#26a69a"/>
<rect x="846.81" y="365.4" width="1" height="4.5" fill="#ef5350"/>
<rect x="845.51" y="365.4" width="3.6" height="1.3" fill="#ef5350"/>
<rect x="850.94" y="362.2" width="1" height="19.2" fill="#ef5350"/>
<rect x="849.64" y="365.4" width="3.6" height="10.2" fill="#ef5350"/>
<rect x="855.08" y="375.0" width="1" height="12.2" fill="#ef5350"/>
<rect x="853.78" y="375.0" width="3.6" height="12.2" fill="#ef5350"/>
<rect x="859.21" y="381.4" width="1" height="8.3" fill="#ef5350"/>
<rect x="857.91" y="385.9" width="3.6" height="2.6" fill="#ef5350"/>
<rect x="863.34" y="370.5" width="1" height="18.0" fill="#26a69a"/>
<rect x="862.04" y="374.1" width="3.6" height="14.4" fill="#26a69a"/>
<rect x="867.48" y="373.7" width="1" height="13.5" fill="#ef5350"/>
<rect x="866.18" y="373.7" width="3.6" height="13.5" fill="#ef5350"/>
<rect x="871.61" y="382.0" width="1" height="4.0" fill="#26a69a"/>
<rect x="870.31" y="382.7" width="3.6" height="2.6" fill="#26a69a"/>
<rect x="875.74" y="375.6" width="1" height="7.7" fill="#26a69a"/>
<rect x="874.44" y="380.1" width="3.6" height="3.2" fill="#26a69a"/>
<rect x="879.88" y="364.7" width="1" height="15.4" fill="#26a69a"/>
<rect x="878.58" y="368.6" width="3.6" height="11.5" fill="#26a69a"/>
<rect x="884.01" y="368.6" width="1" height="5.8" fill="#ef5350"/>
<rect x="882.71" y="368.6" width="3.6" height="1.3" fill="#ef5350"/>
<rect x="888.14" y="355.1" width="1" height="37.2" fill="#26a69a"/>
<rect x="886.84" y="367.3" width="3.6" height="2.6" fill="#26a69a"/>
<rect x="892.28" y="354.5" width="1" height="12.8" fill="#26a69a"/>
<rect x="890.98" y="355.1" width="3.6" height="12.2" fill="#26a69a"/>
<rect x="896.41" y="345.5" width="1" height="9.6" fill="#26a69a"/>
<rect x="895.11" y="351.3" width="3.6" height="3.8" fill="#26a69a"/>
<rect x="900.54" y="331.0" width="1" height="18.4" fill="#26a69a"/>
<rect x="899.24" y="332.0" width="3.6" height="17.4" fill="#26a69a"/>
<rect x="904.68" y="316.0" width="1" height="17.3" fill="#26a69a"/>
<rect x="903.38" y="319.2" width="3.6" height="14.1" fill="#26a69a"/>
<rect x="908.81" y="305.1" width="1" height="14.8" fill="#26a69a"/>
<rect x="907.51" y="314.8" width="3.6" height="5.1" fill="#26a69a"/>
<rect x="912.94" y="310.3" width="1" height="14.5" fill="#ef5350"/>
<rect x="911.64" y="314.8" width="3.6" height="5.1" fill="#ef5350"/>
<rect x="917.08" y="310.3" width="1" height="17.9" fill="#26a69a"/>
<rect x="915.78" y="313.3" width="3.6" height="6.7" fill="#26a69a"/>
<rect x="921.21" y="310.3" width="1" height="6.1" fill="#ef5350"/>
<rect x="919.91" y="313.3" width="3.6" height="2.1" fill="#ef5350"/>
<rect x="925.34" y="312.3" width="1" height="7.7" fill="#ef5350"/>
<rect x="924.04" y="314.4" width="3.6" height="3.0" fill="#ef5350"/>
<rect x="929.48" y="315.9" width="1" height="8.7" fill="#ef5350"/>
<rect x="928.18" y="316.9" width="3.6" height="3.1" fill="#ef5350"/>
<rect x="933.61" y="315.9" width="1" height="9.7" fill="#ef5350"/>
<rect x="932.31" y="319.5" width="3.6" height="4.1" fill="#ef5350"/>
<rect x="937.74" y="323.1" width="1" height="12.3" fill="#ef5350"/>
<rect x="936.44" y="323.1" width="3.6" height="8.7" fill="#ef5350"/>
<rect x="941.88" y="303.1" width="1" height="28.7" fill="#26a69a"/>
<rect x="940.58" y="314.9" width="3.6" height="16.9" fill="#26a69a"/>
<rect x="946.01" y="312.3" width="1" height="5.1" fill="#ef5350"/>
<rect x="944.71" y="314.4" width="3.6" height="1.0" fill="#ef5350"/>
<rect x="950.14" y="311.3" width="1" height="4.1" fill="#26a69a"/>
<rect x="948.84" y="312.8" width="3.6" height="2.6" fill="#26a69a"/>
<rect x="954.28" y="312.8" width="1" height="10.8" fill="#ef5350"/>
<rect x="952.98" y="312.8" width="3.6" height="5.7" fill="#ef5350"/>
<rect x="958.41" y="317.4" width="1" height="10.8" fill="#26a69a"/>
<rect x="957.11" y="318.0" width="3.6" height="1.0" fill="#26a69a"/>
<rect x="962.54" y="308.7" width="1" height="10.3" fill="#26a69a"/>
<rect x="961.24" y="313.3" width="3.6" height="5.7" fill="#26a69a"/>
<rect x="966.68" y="310.3" width="1" height="12.3" fill="#ef5350"/>
<rect x="965.38" y="313.3" width="3.6" height="2.1" fill="#ef5350"/>
<rect x="970.81" y="307.7" width="1" height="8.2" fill="#26a69a"/>
<rect x="969.51" y="308.7" width="3.6" height="7.2" fill="#26a69a"/>
<rect x="974.94" y="292.3" width="1" height="18.0" fill="#26a69a"/>
<rect x="973.64" y="295.4" width="3.6" height="14.9" fill="#26a69a"/>
<rect x="979.08" y="285.2" width="1" height="11.1" fill="#26a69a"/>
<rect x="977.78" y="289.8" width="3.6" height="6.5" fill="#26a69a"/>
<rect x="983.21" y="287.3" width="1" height="13.9" fill="#ef5350"/>
<rect x="981.91" y="289.8" width="3.6" height="7.7" fill="#ef5350"/>
<rect x="987.34" y="294.6" width="1" height="8.7" fill="#ef5350"/>
<rect x="986.04" y="297.2" width="3.6" height="1.0" fill="#ef5350"/>
<rect x="991.48" y="267.4" width="1" height="30.8" fill="#26a69a"/>
<rect x="990.18" y="277.2" width="3.6" height="21.0" fill="#26a69a"/>
<rect x="995.61" y="267.4" width="1" height="9.8" fill="#26a69a"/>
<rect x="994.31" y="267.4" width="3.6" height="9.8" fill="#26a69a"/>
<rect x="999.74" y="265.4" width="1" height="7.2" fill="#ef5350"/>
<rect x="998.44" y="267.4" width="3.6" height="4.1" fill="#ef5350"/>
<rect x="1003.88" y="267.4" width="1" height="9.8" fill="#26a69a"/>
<rect x="1002.58" y="270.0" width="3.6" height="1.0" fill="#26a69a"/>
<rect x="1008.01" y="260.3" width="1" height="9.7" fill="#26a69a"/>
<rect x="1006.71" y="266.4" width="3.6" height="3.6" fill="#26a69a"/>
<rect x="1012.14" y="259.2" width="1" height="7.2" fill="#26a69a"/>
<rect x="1010.84" y="259.7" width="3.6" height="6.7" fill="#26a69a"/>
<rect x="1016.28" y="248.5" width="1" height="27.7" fill="#ef5350"/>
<rect x="1014.98" y="260.3" width="3.6" height="12.3" fill="#ef5350"/>
<rect x="1020.41" y="263.8" width="1" height="8.8" fill="#26a69a"/>
<rect x="1019.11" y="266.4" width="3.6" height="6.2" fill="#26a69a"/>
<rect x="1024.54" y="266.4" width="1" height="5.1" fill="#ef5350"/>
<rect x="1023.24" y="266.4" width="3.6" height="5.1" fill="#ef5350"/>
<rect x="1028.68" y="256.7" width="1" height="14.8" fill="#26a69a"/>
<rect x="1027.38" y="256.7" width="3.6" height="14.8" fill="#26a69a"/>
<rect x="1032.81" y="256.7" width="1" height="13.8" fill="#ef5350"/>
<rect x="1031.51" y="256.7" width="3.6" height="7.7" fill="#ef5350"/>
<rect x="1036.94" y="255.1" width="1" height="9.3" fill="#26a69a"/>
<rect x="1035.64" y="256.2" width="3.6" height="8.2" fill="#26a69a"/>
<rect x="1041.08" y="255.6" width="1" height="6.2" fill="#ef5350"/>
<rect x="1039.78" y="256.7" width="3.6" height="1.5" fill="#ef5350"/>
<rect x="1045.21" y="253.1" width="1" height="6.1" fill="#ef5350"/>
<rect x="1043.91" y="257.2" width="3.6" height="2.0" fill="#ef5350"/>
<rect x="1049.34" y="256.7" width="1" height="2.7" fill="#26a69a"/>
<rect x="1048.04" y="257.2" width="3.6" height="2.2" fill="#26a69a"/>
<rect x="1053.48" y="256.5" width="1" height="6.7" fill="#ef5350"/>
<rect x="1052.18" y="256.5" width="3.6" height="4.1" fill="#ef5350"/>
<rect x="1057.61" y="255.6" width="1" height="9.9" fill="#26a69a"/>
<rect x="1056.31" y="255.6" width="3.6" height="4.8" fill="#26a69a"/>
<rect x="1061.74" y="218.7" width="1" height="37.2" fill="#26a69a"/>
<rect x="1060.44" y="226.4" width="3.6" height="29.5" fill="#26a69a"/>
<rect x="1065.88" y="207.8" width="1" height="18.6" fill="#26a69a"/>
<rect x="1064.58" y="214.2" width="3.6" height="12.2" fill="#26a69a"/>
<rect x="1070.01" y="179.7" width="1" height="35.2" fill="#26a69a"/>
<rect x="1068.71" y="181.0" width="3.6" height="33.9" fill="#26a69a"/>
<rect x="1074.14" y="177.3" width="1" height="9.0" fill="#ef5350"/>
<rect x="1072.84" y="181.0" width="3.6" height="5.3" fill="#ef5350"/>
<rect x="1078.28" y="160.8" width="1" height="25.5" fill="#26a69a"/>
<rect x="1076.98" y="174.0" width="3.6" height="12.3" fill="#26a69a"/>
<rect x="1082.41" y="145.2" width="1" height="36.3" fill="#26a69a"/>
<rect x="1081.11" y="147.5" width="3.6" height="26.7" fill="#26a69a"/>
<rect x="1086.54" y="136.0" width="1" height="19.6" fill="#ef5350"/>
<rect x="1085.24" y="148.1" width="3.6" height="3.4" fill="#ef5350"/>
<rect x="1090.67" y="116.9" width="1" height="34.6" fill="#26a69a"/>
<rect x="1089.38" y="116.9" width="3.6" height="34.6" fill="#26a69a"/>
<rect x="1094.81" y="116.9" width="1" height="22.5" fill="#ef5350"/>
<rect x="1093.51" y="116.9" width="3.6" height="19.6" fill="#ef5350"/>
<rect x="1098.94" y="133.7" width="1" height="23.6" fill="#ef5350"/>
<rect x="1097.64" y="136.0" width="3.6" height="21.3" fill="#ef5350"/>
<rect x="1103.07" y="138.3" width="1" height="19.0" fill="#26a69a"/>
<rect x="1101.77" y="145.2" width="3.6" height="12.1" fill="#26a69a"/>
<rect x="1107.21" y="130.2" width="1" height="18.5" fill="#ef5350"/>
<rect x="1105.91" y="145.2" width="3.6" height="3.5" fill="#ef5350"/>
<rect x="1111.34" y="144.6" width="1" height="19.1" fill="#ef5350"/>
<rect x="1110.04" y="148.1" width="3.6" height="6.3" fill="#ef5350"/>
<rect x="1115.47" y="143.5" width="1" height="24.8" fill="#ef5350"/>
<rect x="1114.17" y="153.8" width="3.6" height="10.4" fill="#ef5350"/>
<rect x="1119.61" y="133.7" width="1" height="32.3" fill="#26a69a"/>
<rect x="1118.31" y="145.2" width="3.6" height="19.0" fill="#26a69a"/>
<rect x="1123.74" y="139.4" width="1" height="11.0" fill="#ef5350"/>
<rect x="1122.44" y="145.2" width="3.6" height="2.9" fill="#ef5350"/>
<rect x="1127.87" y="144.6" width="1" height="8.1" fill="#ef5350"/>
<rect x="1126.57" y="147.5" width="3.6" height="4.0" fill="#ef5350"/>
<rect x="1132.01" y="149.2" width="1" height="26.6" fill="#ef5350"/>
<rect x="1130.71" y="151.0" width="3.6" height="24.8" fill="#ef5350"/>
<rect x="1136.14" y="172.3" width="1" height="34.0" fill="#ef5350"/>
<rect x="1134.84" y="175.2" width="3.6" height="25.4" fill="#ef5350"/>
<rect x="1140.27" y="191.3" width="1" height="34.7" fill="#26a69a"/>
<rect x="1138.97" y="194.2" width="3.6" height="6.4" fill="#26a69a"/>
<rect x="1144.41" y="184.4" width="1" height="20.8" fill="#ef5350"/>
<rect x="1143.11" y="194.2" width="3.6" height="2.3" fill="#ef5350"/>
<rect x="1148.54" y="186.7" width="1" height="9.8" fill="#26a69a"/>
<rect x="1147.24" y="189.0" width="3.6" height="7.5" fill="#26a69a"/>
<rect x="1152.67" y="187.9" width="1" height="5.2" fill="#ef5350"/>
<rect x="1151.37" y="189.0" width="3.6" height="4.1" fill="#ef5350"/>
<rect x="1156.81" y="186.7" width="1" height="20.8" fill="#26a69a"/>
<rect x="1155.51" y="193.1" width="3.6" height="14.4" fill="#26a69a"/>
<rect x="1160.94" y="178.7" width="1" height="21.9" fill="#26a69a"/>
<rect x="1159.64" y="181.0" width="3.6" height="12.1" fill="#26a69a"/>
<rect x="1165.07" y="164.2" width="1" height="26.6" fill="#ef5350"/>
<rect x="1163.77" y="181.0" width="3.6" height="6.3" fill="#ef5350"/>
<rect x="1169.21" y="181.0" width="1" height="15.5" fill="#ef5350"/>
<rect x="1167.91" y="186.7" width="3.6" height="8.1" fill="#ef5350"/>
<rect x="1173.34" y="183.3" width="1" height="19.6" fill="#ef5350"/>
<rect x="1172.04" y="193.7" width="3.6" height="4.0" fill="#ef5350"/>
<rect x="1177.47" y="184.4" width="1" height="20.8" fill="#26a69a"/>
<rect x="1176.17" y="184.4" width="3.6" height="13.3" fill="#26a69a"/>
<rect x="1181.61" y="183.3" width="1" height="9.8" fill="#ef5350"/>
<rect x="1180.31" y="184.4" width="3.6" height="8.7" fill="#ef5350"/>
<rect x="1185.74" y="187.9" width="1" height="12.7" fill="#ef5350"/>
<rect x="1184.44" y="192.5" width="3.6" height="2.9" fill="#ef5350"/>
<rect x="1189.87" y="191.3" width="1" height="17.4" fill="#ef5350"/>
<rect x="1188.57" y="195.2" width="3.6" height="8.3" fill="#ef5350"/>
<rect x="1194.01" y="197.1" width="1" height="17.3" fill="#ef5350"/>
<rect x="1192.71" y="202.9" width="3.6" height="6.9" fill="#ef5350"/>
<rect x="1198.14" y="126.2" width="1" height="95.7" fill="#26a69a"/>
<rect x="1196.84" y="138.3" width="3.6" height="71.5" fill="#26a69a"/>
<rect x="1202.27" y="130.8" width="1" height="12.7" fill="#26a69a"/>
<rect x="1200.97" y="131.9" width="3.6" height="5.8" fill="#26a69a"/>
<rect x="1206.41" y="116.9" width="1" height="20.8" fill="#ef5350"/>
<rect x="1205.11" y="132.5" width="3.6" height="1.7" fill="#ef5350"/>
<rect x="1210.54" y="120.4" width="1" height="24.2" fill="#ef5350"/>
<rect x="1209.24" y="133.1" width="3.6" height="2.3" fill="#ef5350"/>
<rect x="1214.67" y="134.2" width="1" height="35.8" fill="#ef5350"/>
<rect x="1213.37" y="134.2" width="3.6" height="35.8" fill="#ef5350"/>
<rect x="1218.81" y="156.2" width="1" height="25.3" fill="#26a69a"/>
<rect x="1217.51" y="167.1" width="3.6" height="2.3" fill="#26a69a"/>
<rect x="1222.94" y="163.1" width="1" height="30.6" fill="#ef5350"/>
<rect x="1221.64" y="166.5" width="3.6" height="16.2" fill="#ef5350"/>
<rect x="1227.07" y="172.3" width="1" height="11.7" fill="#26a69a"/>
<rect x="1225.77" y="173.5" width="3.6" height="9.2" fill="#26a69a"/>
<rect x="1231.21" y="172.3" width="1" height="12.7" fill="#ef5350"/>
<rect x="1229.91" y="173.5" width="3.6" height="9.2" fill="#ef5350"/>
<rect x="1235.34" y="164.2" width="1" height="18.5" fill="#26a69a"/>
<rect x="1234.04" y="166.0" width="3.6" height="16.7" fill="#26a69a"/>
<rect x="1239.47" y="153.3" width="1" height="16.1" fill="#26a69a"/>
<rect x="1238.17" y="162.5" width="3.6" height="4.6" fill="#26a69a"/>
<rect x="1243.61" y="157.9" width="1" height="13.8" fill="#ef5350"/>
<rect x="1242.31" y="162.5" width="3.6" height="1.2" fill="#ef5350"/>
<rect x="1247.74" y="156.2" width="1" height="18.4" fill="#26a69a"/>
<rect x="1246.44" y="160.8" width="3.6" height="2.9" fill="#26a69a"/>
<rect x="1251.87" y="160.8" width="1" height="7.5" fill="#ef5350"/>
<rect x="1250.57" y="160.8" width="3.6" height="4.0" fill="#ef5350"/>
<rect x="1256.01" y="163.7" width="1" height="5.7" fill="#ef5350"/>
<rect x="1254.71" y="163.7" width="3.6" height="5.5" fill="#ef5350"/>
<rect x="1260.14" y="164.2" width="1" height="19.6" fill="#26a69a"/>
<rect x="1258.84" y="167.9" width="3.6" height="1.3" fill="#26a69a"/>
<rect x="1264.27" y="157.1" width="1" height="14.6" fill="#26a69a"/>
<rect x="1262.97" y="165.4" width="3.6" height="2.9" fill="#26a69a"/>
<rect x="1268.41" y="163.7" width="1" height="16.7" fill="#ef5350"/>
<rect x="1267.11" y="163.8" width="3.6" height="14.2" fill="#ef5350"/>
<rect x="1272.54" y="167.9" width="1" height="14.6" fill="#ef5350"/>
<rect x="1271.24" y="177.5" width="3.6" height="1.2" fill="#ef5350"/>
<rect x="1276.67" y="177.0" width="1" height="5.9" fill="#ef5350"/>
<rect x="1275.37" y="177.9" width="3.6" height="5.0" fill="#ef5350"/>
<rect x="1280.81" y="180.0" width="1" height="6.2" fill="#ef5350"/>
<rect x="1279.51" y="182.1" width="3.6" height="4.2" fill="#ef5350"/>
<rect x="1284.94" y="175.0" width="1" height="14.6" fill="#ef5350"/>
<rect x="1283.64" y="183.3" width="3.6" height="4.2" fill="#ef5350"/>
<rect x="1289.07" y="172.5" width="1" height="16.0" fill="#26a69a"/>
<rect x="1287.77" y="173.3" width="3.6" height="14.6" fill="#26a69a"/>
<rect x="1293.21" y="162.9" width="1" height="11.3" fill="#26a69a"/>
<rect x="1291.91" y="162.9" width="3.6" height="11.3" fill="#26a69a"/>
<rect x="1297.34" y="159.6" width="1" height="7.5" fill="#26a69a"/>
<rect x="1296.04" y="159.6" width="3.6" height="4.2" fill="#26a69a"/>
<rect x="1301.47" y="158.8" width="1" height="14.6" fill="#ef5350"/>
<rect x="1300.17" y="158.8" width="3.6" height="10.4" fill="#ef5350"/>
<rect x="1305.61" y="166.7" width="1" height="7.5" fill="#ef5350"/>
<rect x="1304.31" y="168.8" width="3.6" height="5.4" fill="#ef5350"/>
<rect x="1309.74" y="169.2" width="1" height="5.0" fill="#26a69a"/>
<rect x="1308.44" y="173.8" width="3.6" height="1.0" fill="#26a69a"/>
<rect x="1313.87" y="170.4" width="1" height="11.3" fill="#26a69a"/>
<rect x="1312.57" y="173.8" width="3.6" height="1.0" fill="#26a69a"/>
<rect x="1318.01" y="162.1" width="1" height="12.1" fill="#26a69a"/>
<rect x="1316.71" y="164.2" width="3.6" height="10.0" fill="#26a69a"/>
<rect x="1322.14" y="153.8" width="1" height="10.8" fill="#26a69a"/>
<rect x="1320.84" y="159.6" width="3.6" height="5.0" fill="#26a69a"/>
<rect x="1326.27" y="150.0" width="1" height="13.8" fill="#26a69a"/>
<rect x="1324.97" y="159.2" width="3.6" height="1.0" fill="#26a69a"/>
<rect x="1330.41" y="157.5" width="1" height="5.0" fill="#26a69a"/>
<rect x="1329.11" y="158.8" width="3.6" height="1.2" fill="#26a69a"/>
<rect x="1334.54" y="154.6" width="1" height="7.1" fill="#ef5350"/>
<rect x="1333.24" y="158.8" width="3.6" height="2.9" fill="#ef5350"/>
<rect x="1338.67" y="152.5" width="1" height="9.6" fill="#26a69a"/>
<rect x="1337.37" y="152.5" width="3.6" height="9.6" fill="#26a69a"/>
</g>
<line x1="1339.2" y1="61" x2="1339.2" y2="656" stroke="#9b9ea7" stroke-width="1"/>
<line x1="13" y1="624.5" x2="1407" y2="624.5" stroke="#9b9ea7" stroke-width="1"/>
<g font-size="14.2" fill="#474a55" text-anchor="middle">
<text transform="translate(57.5,643.9) scale(0.87,1)">13</text>
<text transform="translate(161.1,643.9) scale(0.87,1)">19</text>
<text transform="translate(260.8,643.9) scale(0.87,1)">24</text>
<text transform="translate(392.1,643.9) scale(0.87,1)">Aug</text>
<text transform="translate(491.2,643.9) scale(0.87,1)">5</text>
<text transform="translate(595.1,643.9) scale(0.87,1)">11</text>
<text transform="translate(697.8,643.9) scale(0.87,1)">17</text>
<text transform="translate(801.5,643.9) scale(0.87,1)">23</text>
<text transform="translate(979.3,643.9) scale(0.87,1)">Sep</text>
<text transform="translate(1082.1,643.9) scale(0.87,1)">7</text>
<text transform="translate(1185.8,643.9) scale(0.87,1)">13</text>
<text transform="translate(1285.0,643.9) scale(0.87,1)">18</text>
</g>
<g font-size="13.8" fill="#474a55">
<text x="1351.3" y="90.1" textLength="45.5" lengthAdjust="spacingAndGlyphs">146.000</text>
<text x="1351.3" y="215.9" textLength="45.5" lengthAdjust="spacingAndGlyphs">142.000</text>
<text x="1351.3" y="342.3" textLength="45.5" lengthAdjust="spacingAndGlyphs">138.000</text>
<text x="1351.3" y="405.3" textLength="45.5" lengthAdjust="spacingAndGlyphs">136.000</text>
<text x="1351.3" y="469.2" textLength="45.5" lengthAdjust="spacingAndGlyphs">134.000</text>
<text x="1351.3" y="532.1" textLength="45.5" lengthAdjust="spacingAndGlyphs">132.000</text>
<text x="1351.3" y="595.9" textLength="45.5" lengthAdjust="spacingAndGlyphs">130.000</text>
</g>
<!-- price tags -->
<path d="M1340,143 H1401 a2,2 0 0 1 2,2 V161 a2,2 0 0 1 -2,2 H1340 Z" fill="#26a69a"/>
<path d="M1340,168 H1401 a2,2 0 0 1 2,2 V186 a2,2 0 0 1 -2,2 H1340 Z" fill="#2196f3"/>
<path d="M1340,266 H1401 a2,2 0 0 1 2,2 V284 a2,2 0 0 1 -2,2 H1340 Z" fill="#f23645"/>
<g font-size="13" font-weight="bold" fill="#fff">
<text x="1351.5" y="157.6" textLength="45.3" lengthAdjust="spacingAndGlyphs">143.837</text>
<text x="1351.5" y="182.6" textLength="45.3" lengthAdjust="spacingAndGlyphs">143.049</text>
<text x="1351.5" y="280.6" textLength="45.3" lengthAdjust="spacingAndGlyphs">139.940</text>
</g>
<!-- legend -->
<g font-size="14.2" fill="#434651">
<text x="22.1" y="82" textLength="69.3" lengthAdjust="spacingAndGlyphs">USDJPY, 4h</text>
<text x="100.6" y="82">O</text>
<text x="170.2" y="82">H</text>
<text x="237.8" y="82">L</text>
<text x="303.4" y="82">C</text>
<text x="22.1" y="102" textLength="166.4" lengthAdjust="spacingAndGlyphs">EMA (50, close, 0, SMA, 9)</text>
<text x="22.1" y="122" textLength="174.1" lengthAdjust="spacingAndGlyphs">EMA (200, close, 0, SMA, 9)</text>
</g>
<g font-size="14.2" fill="#f5505c">
<text x="111.7" y="82" textLength="48.3" lengthAdjust="spacingAndGlyphs">149.330</text>
<text x="180" y="82" textLength="48.4" lengthAdjust="spacingAndGlyphs">149.346</text>
<text x="246" y="82" textLength="49" lengthAdjust="spacingAndGlyphs">149.250</text>
<text x="313.9" y="82" textLength="48" lengthAdjust="spacingAndGlyphs">149.268</text>
<text x="372" y="82" textLength="100.4" lengthAdjust="spacingAndGlyphs">−0.065 (−0.04%)</text>
<text x="206.4" y="122" textLength="49" lengthAdjust="spacingAndGlyphs">147.578</text>
</g>
<text x="198.6" y="102" font-size="14.2" fill="#2196f3" textLength="49" lengthAdjust="spacingAndGlyphs">148.993</text>
<!-- annotation -->
<circle cx="755.9" cy="441.7" r="16.3" fill="rgba(255,110,40,0.27)" stroke="#ff5a0a" stroke-width="2.5"/>
<line x1="708.7" y1="478" x2="819" y2="478" stroke="#5f6370" stroke-width="2" stroke-dasharray="9 6.4" stroke-dashoffset="3"/>
<text x="765.5" y="495.7" font-size="16" fill="#2a2e39" text-anchor="middle">Stop Loss</text>
<!-- logo -->
<g id="logo">
<g transform="translate(606,692)" fill="#ff5a00">
<circle cx="31.7" cy="31.7" r="27.4" fill="none" stroke="#ff5a00" stroke-width="1.2"/>
<circle cx="31.7" cy="32" r="21.4" fill="none" stroke="#ff5a00" stroke-width="1.1"/>
<circle cx="32.2" cy="32.3" r="16.9"/>
<path d="M22,37 C17,34 14,26 17,20 L25,22 C22,27 22,33 24,37 Z"/>
<path d="M35.5,13.5 C27,18 30,27 24.5,34 C21.5,38 21.5,44.5 26,49" fill="none" stroke="#f7f8fa" stroke-width="3" stroke-linecap="round"/>
<path d="M40.5,16 C33,21 37,31 30.5,38.5 C28,41.5 28.5,45.5 31.5,48.5" fill="none" stroke="#f7f8fa" stroke-width="1.5" stroke-linecap="round"/>
<path d="M36,35 C34,38 34,41 36.5,42 C38.5,41 38.5,37 36,35 Z" fill="#f7f8fa"/>
<ellipse cx="18.5" cy="18.5" rx="9" ry="7" transform="rotate(-22 18.5 18.5)"/>
<ellipse cx="12" cy="23.5" rx="4.2" ry="3" transform="rotate(-15 12 23.5)"/>
<path d="M9.5,12 C8.5,7.5 13,5 19,5 C24,4.5 28,5 28.5,8.5" fill="none" stroke="#ff5a00" stroke-width="2"/>
<path d="M20,9.5 C24,7.5 29.5,8 29.5,12.5" fill="none" stroke="#ff5a00" stroke-width="1.7"/>
<path d="M12,10.5 C14.5,8.5 19,8.2 22,9.2" fill="none" stroke="#f7f8fa" stroke-width="0.8"/>
<ellipse cx="22" cy="18.5" rx="2.3" ry="2" fill="#f7f8fa"/>
<ellipse cx="16" cy="16.5" rx="1.1" ry="0.9" fill="#f7f8fa"/>
<ellipse cx="11.5" cy="23" rx="2.3" ry="1.1" fill="#f7f8fa"/>
<ellipse cx="15" cy="25.5" rx="1.1" ry="0.7" fill="#f7f8fa"/>
<ellipse cx="46.5" cy="41" rx="6.3" ry="7.5" transform="rotate(25 46.5 41)"/>
<path d="M41,33.5 C42,30 46,29 48.5,31.5" fill="none" stroke="#ff5a00" stroke-width="1.5"/>
<path d="M48,33 C50.5,33 53,35 52.5,38" fill="none" stroke="#ff5a00" stroke-width="1.5"/>
<ellipse cx="44" cy="41.5" rx="1.3" ry="0.9" fill="#f7f8fa"/>
<path d="M44,46 C46.5,46.5 48.5,45.5 50,43.5" fill="none" stroke="#f7f8fa" stroke-width="0.9"/>
<circle cx="38.5" cy="48.8" r="1.7" fill="none" stroke="#f7f8fa" stroke-width="0.8"/>
<path d="M27.5,47 C29,48.5 31.5,49 33.5,48.5" fill="none" stroke="#f7f8fa" stroke-width="0.8"/>
</g>
<g fill="#141414">
<path d="M675.1,710.2 H695.2 V716.3 H681.7 V719.4 H693.6 V725.1 H681.7 V737.3 H675.1 Z"/>
<path d="M690.2,710.2 H697.6 L718.2,737.3 H710.8 Z"/>
<path d="M710.6,710.2 H718 L697.4,737.3 H690 Z"/>
</g>
<g fill="#ff5a00">
<path fill-rule="evenodd" d="M726,711.7 a9.45,11.75 0 1 0 0.01,0 Z M726,716.9 a3.9,6.6 0 1 1 -0.01,0 Z"/>
<path fill-rule="evenodd" d="M736.9,711.7 h6 v32.2 h-6 Z M746.4,711.7 a9.4,11.75 0 1 1 0,23.5 a9.4,11.75 0 0 1 -3.4,-0.7 v-5.6 a3.6,6.4 0 1 0 0,-11.6 v-5 a9.4,11.75 0 0 1 3.4,-0.6 Z"/>
<path d="M767,711.7 a11.2,11.75 0 0 0 0,23.5 a11.2,11.75 0 0 0 10.5,-7 h-6.5 a5.4,6 0 0 1 -4,2 a5.4,6.2 0 0 1 -5.2,-3.8 h16.2 a11.2,11.75 0 0 0 -11,-14.7 Z M761.8,721 a5.3,5.5 0 0 1 10.4,0 Z" fill-rule="evenodd"/>
<path d="M779.8,711.7 h6 v2.5 a8,8 0 0 1 6,-2.8 a8,8.5 0 0 1 7.9,8.5 v15.3 h-6.1 v-13.5 a3.6,3.8 0 0 0 -7.8,0 v13.5 h-6 Z"/>
</g>
<text x="806.8" y="717" font-size="9" fill="#555" text-anchor="middle">®</text>
<g font-size="5.6" font-weight="bold" fill="#3a3a3a">
<text x="691" y="744" textLength="42.3" lengthAdjust="spacing">when money</text>
<text x="746.1" y="744" textLength="53.6" lengthAdjust="spacing">makes money</text>
</g>
</g>

</svg>
</body></html>
